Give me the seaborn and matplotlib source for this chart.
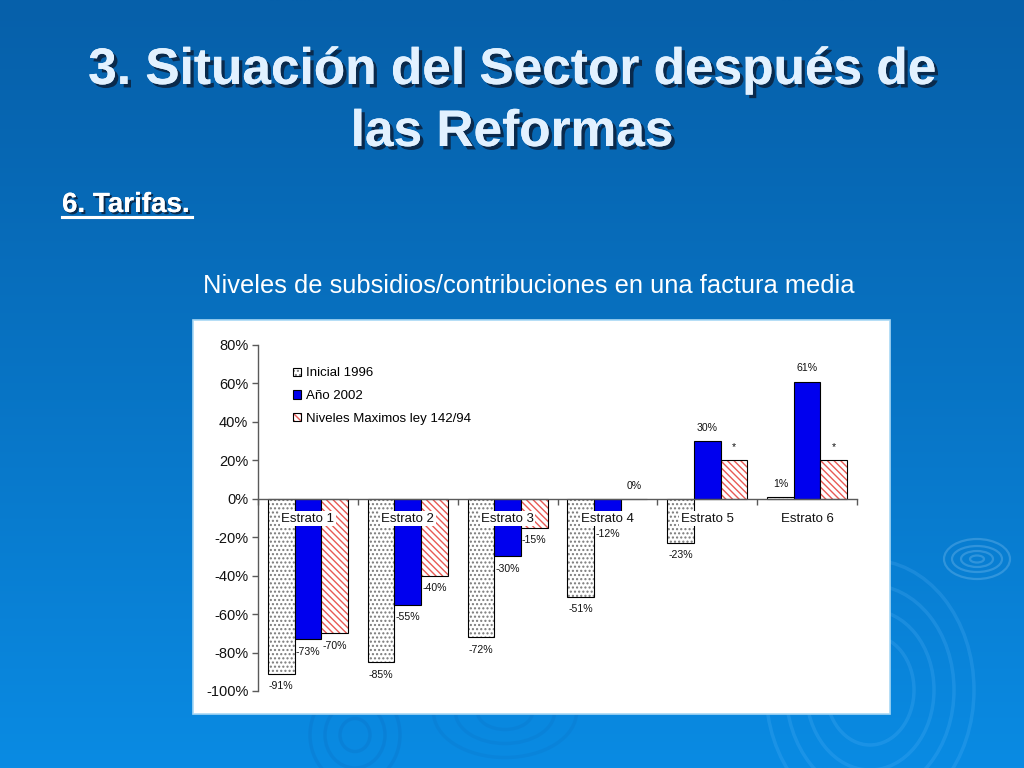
import numpy as np
import pandas as pd
import matplotlib
matplotlib.use("Agg")
import matplotlib.pyplot as plt
import matplotlib.colors as mcolors
import seaborn as sns
from matplotlib import patheffects as pe
from matplotlib.patches import Patch, Rectangle, Ellipse
from matplotlib.lines import Line2D

# ---------------- data ----------------
categories = ["Estrato 1", "Estrato 2", "Estrato 3", "Estrato 4", "Estrato 5", "Estrato 6"]
series = ["Inicial 1996", "Año 2002", "Niveles Maximos ley 142/94"]
inicial_1996 = [-91, -85, -72, -51, -23, 1]
ano_2002 = [-73, -55, -30, -12, 30, 61]
niveles_maximos = [-70, -40, -15, 0, 20, 20]
inicial_labels = ["-91%", "-85%", "-72%", "-51%", "-23%", "1%"]
ano_labels = ["-73%", "-55%", "-30%", "-12%", "30%", "61%"]
niveles_labels = ["-70%", "-40%", "-15%", "0%", "*", "*"]
y_ticks = [-100, -80, -60, -40, -20, 0, 20, 40, 60, 80]
y_tick_labels = ["-100%", "-80%", "-60%", "-40%", "-20%", "0%", "20%", "40%", "60%", "80%"]

values_by_series = [inicial_1996, ano_2002, niveles_maximos]
labels_by_series = [inicial_labels, ano_labels, niveles_labels]

df = pd.DataFrame({
    "estrato": categories * 3,
    "serie": [s for s in series for _ in categories],
    "valor": inicial_1996 + ano_2002 + niveles_maximos,
})

# ---------------- styles ----------------
plt.rcParams["font.family"] = ["Liberation Sans", "DejaVu Sans"]
plt.rcParams["hatch.linewidth"] = 1.0

face_colors = ["white", "#0000ee", "white"]
hatches = ["....", None, "\\\\\\\\\\"]
hatch_colors = ["#7a7a7a", None, "#e85a55"]


def set_hatch_color(p, c):
    if hasattr(p, "set_hatchcolor"):
        p.set_hatchcolor(c)
    else:
        p._hatch_color = mcolors.to_rgba(c)


W, H = 1024, 768
fig = plt.figure(figsize=(W / 100, H / 100), dpi=100)

# ---------------- background ----------------
bg = fig.add_axes([0, 0, 1, 1], zorder=-10)
bg.set_xlim(0, W)
bg.set_ylim(H, 0)
bg.axis("off")
top = np.array(mcolors.to_rgb("#0660aa"))
bot = np.array(mcolors.to_rgb("#0a8be3"))
t = np.linspace(0, 1, 256)[:, None] ** 1.1
grad = top[None, :] * (1 - t) + bot[None, :] * t
grad = np.repeat(grad[:, None, :], 2, axis=1)
bg.imshow(grad, extent=[0, W, H, 0], aspect="auto", zorder=0)
# faint ripples
for rx, ry in [(7, 3.5), (16, 8), (25, 13), (33, 20)]:
    bg.add_patch(Ellipse((977, 559), rx * 2, ry * 2, fill=False,
                         edgecolor="#bfe4ff", alpha=0.22, lw=1.6, zorder=1))
for r in [55, 80, 105, 130]:
    bg.add_patch(Ellipse((870, 690), r * 1.6, r * 2.0, fill=False,
                         edgecolor="#6cc0ff", alpha=0.18, lw=2.5, zorder=1))
for r in [15, 30, 45]:
    bg.add_patch(Ellipse((355, 735), r * 2.0, r * 2.2, fill=False,
                         edgecolor="#0a6cc0", alpha=0.25, lw=2.5, zorder=1))
for r in [25, 45, 65]:
    bg.add_patch(Ellipse((505, 712), r * 2.2, r * 1.4, fill=False,
                         edgecolor="#0a6cc0", alpha=0.2, lw=2.5, zorder=1))
# white chart panel
bg.add_patch(Rectangle((193, 320), 697, 394, facecolor="white",
                       edgecolor="#a8d8f5", lw=1.2, zorder=2))

# ---------------- titles ----------------
title_fx = [pe.withSimplePatchShadow(offset=(2.5, -2.5), shadow_rgbFace="#0b2442", alpha=0.9),
            pe.Normal()]
fig.text(0.5, 1 - 84 / H, "3. Situación del Sector después de", ha="center", va="baseline",
         fontsize=37, fontweight="bold", color="#e2f1ff", path_effects=title_fx)
fig.text(0.5, 1 - 146 / H, "las Reformas", ha="center", va="baseline",
         fontsize=37, fontweight="bold", color="#e2f1ff", path_effects=title_fx)
sub_fx = [pe.withSimplePatchShadow(offset=(1.5, -1.5), shadow_rgbFace="#0b2442", alpha=0.9),
          pe.Normal()]
fig.text(62 / W, 1 - 212 / H, "6. Tarifas.", ha="left", va="baseline",
         fontsize=20, fontweight="bold", color="white", path_effects=sub_fx)
fig.add_artist(Line2D([62 / W, 192 / W], [1 - 217 / H, 1 - 217 / H], color="white", lw=2.2,
                      path_effects=sub_fx))
fig.text(529 / W, 1 - 293 / H, "Niveles de subsidios/contribuciones en una factura media",
         ha="center", va="baseline", fontsize=18.4, color="white")

# ---------------- chart ----------------
ax = fig.add_axes([258 / W, 77 / H, 599 / W, 346 / H])
ax.set_facecolor("none")
sns.barplot(data=df, x="estrato", y="valor", hue="serie", order=categories, hue_order=series,
            palette=face_colors, saturation=1, width=0.8, errorbar=None,
            edgecolor="black", linewidth=0.8, legend=False, ax=ax)

for k, cont in enumerate(ax.containers):
    for p in cont:
        p.set_zorder(2)
        if hatches[k]:
            p.set_hatch(hatches[k])
            set_hatch_color(p, hatch_colors[k])

# value labels
for k, cont in enumerate(ax.containers):
    for p, v, lab in zip(cont, values_by_series[k], labels_by_series[k]):
        xc = p.get_x() + p.get_width() / 2
        off = -9 if v < 0 else 9.5
        ax.annotate(lab, (xc, v), xytext=(0, off), textcoords="offset points",
                    ha="center", va="center", fontsize=7.6, color="#111111", zorder=5)

ax.set_ylim(-100, 80)
ax.set_xlim(-0.5, len(categories) - 0.5)
ax.set_yticks(y_ticks)
ax.set_yticklabels(y_tick_labels)
ax.set_xlabel("")
ax.set_ylabel("")
ax.set_axisbelow(False)

for s in ["top", "right"]:
    ax.spines[s].set_visible(False)
ax.spines["bottom"].set_position(("data", 0))
for s in ["bottom", "left"]:
    ax.spines[s].set_color("#5a5a5a")
    ax.spines[s].set_linewidth(1.0)
    ax.spines[s].set_zorder(3)

ax.tick_params(axis="y", direction="out", length=4, width=1, color="#5a5a5a",
               labelsize=10.5, labelcolor="#111111", pad=3)
ax.set_xticks(np.arange(-0.5, len(categories)), minor=True)
ax.tick_params(axis="x", which="minor", direction="out", length=4, width=1, color="#5a5a5a")
ax.tick_params(axis="x", which="major", length=0, labelsize=9.5, labelcolor="#111111", pad=10)
for lbl in ax.get_xticklabels():
    lbl.set_bbox(dict(facecolor="white", edgecolor="none", pad=1.0))
    lbl.set_zorder(6)
ax.xaxis.set_zorder(4)

# legend
handles = []
for k in range(3):
    h = Patch(facecolor=face_colors[k], edgecolor="black", linewidth=0.8,
              hatch=hatches[k] if hatches[k] else None)
    if hatches[k]:
        set_hatch_color(h, hatch_colors[k])
    handles.append(h)
leg = ax.legend(handles, series, loc="upper left", bbox_to_anchor=(0.058, 0.935),
                frameon=False, fontsize=9.5, handlelength=0.6, handleheight=0.6,
                handletextpad=0.4, labelspacing=0.8, borderpad=0, borderaxespad=0)

fig.savefig("out.png", dpi=100)
